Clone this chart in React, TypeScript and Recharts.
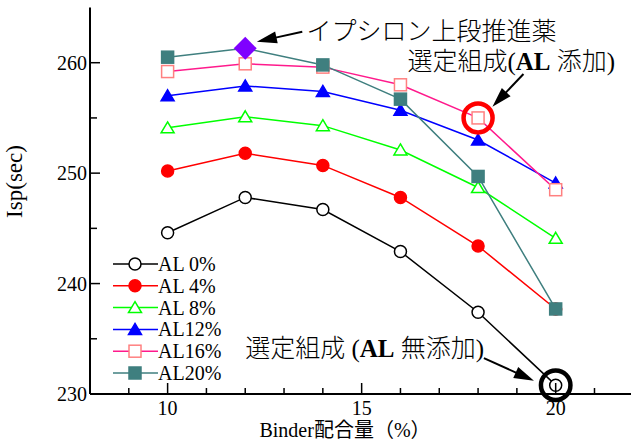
// Isp vs binder content for Epsilon upper-stage propellant, drawn with Recharts

import { LineChart, Line, XAxis, YAxis, Legend, ReferenceDot, ReferenceLine } from 'recharts';

const binder = [10, 12, 14, 16, 18, 20];

const al0 = [244.6, 247.8, 246.7, 242.9, 237.4, 230.8];
const al4 = [250.2, 251.8, 250.7, 247.8, 243.4, 237.7];
const al8 = [254.1, 255.1, 254.3, 252.1, 248.7, 244.1];
const al12 = [257.0, 257.9, 257.4, 255.7, 253.0, 249.1];
const al16 = [259.2, 259.9, 259.6, 258.0, 255.0, 248.5];
const al20 = [260.5, 261.3, 259.8, 256.7, 249.7, 237.7];

const seriesNames = ['AL 0%', 'AL 4%', 'AL 8%', 'AL12%', 'AL16%', 'AL20%'];

const xTicks = [9, 10, 11, 12, 13, 14, 15, 16, 17, 18, 19, 20, 21];
const yTicks = [230, 235, 240, 245, 250, 255, 260];

// annotation anchors (data coordinates)
const epsilonMark = { x: 12, y: 261.3 };
const selectedAl = { x: 18, y: 255.0 };
const selectedNoAl = { x: 20, y: 230.8 };

const SERIF = '"Liberation Serif", "Times New Roman", serif';
const JP = '"Liberation Serif", "Noto Sans CJK JP", serif';

type Shape = 'circle' | 'triangle' | 'square';

const SERIES: { key: string; color: string; shape: Shape; fill: string; markStroke: string }[] = [
  { key: 'al0', color: '#000000', shape: 'circle', fill: '#ffffff', markStroke: '#000000' },
  { key: 'al4', color: '#ff0000', shape: 'circle', fill: '#ff0000', markStroke: '#ff0000' },
  { key: 'al8', color: '#00ff00', shape: 'triangle', fill: '#ffffff', markStroke: '#00ff00' },
  { key: 'al12', color: '#0000ff', shape: 'triangle', fill: '#0000ff', markStroke: '#0000ff' },
  { key: 'al16', color: '#ff1a8c', shape: 'square', fill: '#ffffff', markStroke: '#ff8080' },
  { key: 'al20', color: '#3f7f7f', shape: 'square', fill: '#3f7f7f', markStroke: '#3f7f7f' },
];

const data = binder.map((b, i) => ({
  binder: b,
  al0: al0[i],
  al4: al4[i],
  al8: al8[i],
  al12: al12[i],
  al16: al16[i],
  al20: al20[i],
}));

function Marker({ shape, cx, cy, fill, stroke }: { shape: Shape; cx: number; cy: number; fill: string; stroke: string }) {
  if (shape === 'circle') {
    return <circle cx={cx} cy={cy} r={6} fill={fill} stroke={stroke} strokeWidth={1.5} />;
  }
  if (shape === 'square') {
    return <rect x={cx - 6} y={cy - 6} width={12} height={12} fill={fill} stroke={stroke} strokeWidth={1.5} />;
  }
  return (
    <polygon
      points={`${cx},${cy - 6} ${cx + 6.5},${cy + 5} ${cx - 6.5},${cy + 5}`}
      fill={fill}
      stroke={stroke}
      strokeWidth={1.5}
    />
  );
}

const BottomTick = (p: any) => {
  const major = p.payload.value % 5 === 0;
  return (
    <g>
      <line x1={p.x} y1={p.y} x2={p.x} y2={p.y - (major ? 11 : 6)} stroke="#000" strokeWidth={1.5} />
      {major && (
        <text x={p.x} y={p.y + 21} textAnchor="middle" style={{ fontFamily: SERIF, fontSize: 20 }} fill="#000">
          {p.payload.value}
        </text>
      )}
    </g>
  );
};

const TopTick = (p: any) => {
  const major = p.payload.value % 5 === 0;
  return <line x1={p.x} y1={p.y} x2={p.x} y2={p.y + (major ? 11 : 6)} stroke="#000" strokeWidth={1.5} />;
};

const LeftTick = (p: any) => {
  const major = p.payload.value % 10 === 0;
  return (
    <g>
      <line x1={p.x} y1={p.y} x2={p.x + (major ? 10 : 7)} y2={p.y} stroke="#000" strokeWidth={1.5} />
      {major && (
        <text x={p.x - 3} y={p.y + 7} textAnchor="end" style={{ fontFamily: SERIF, fontSize: 20 }} fill="#000">
          {p.payload.value}
        </text>
      )}
    </g>
  );
};

const RightTick = (p: any) => {
  const major = p.payload.value % 10 === 0;
  return <line x1={p.x} y1={p.y} x2={p.x - (major ? 10 : 7)} y2={p.y} stroke="#000" strokeWidth={1.5} />;
};

const Arrow = (p: any) => {
  const { x1, y1, x2, y2 } = p;
  const dx = x2 - x1;
  const dy = y2 - y1;
  const len = Math.hypot(dx, dy) || 1;
  const ux = dx / len;
  const uy = dy / len;
  const hl = 20;
  const hw = 6;
  const bx = x2 - ux * hl;
  const by = y2 - uy * hl;
  return (
    <g>
      <line x1={x1} y1={y1} x2={bx + ux * 2} y2={by + uy * 2} stroke="#000" strokeWidth={2} />
      <polygon points={`${x2},${y2} ${bx - uy * hw},${by + ux * hw} ${bx + uy * hw},${by - ux * hw}`} fill="#000" />
    </g>
  );
};

function LegendBox() {
  return (
    <svg width={120} height={135}>
      {SERIES.map((s, i) => {
        const cy = 11 + i * 21.8;
        return (
          <g key={s.key}>
            <line x1={3} y1={cy} x2={48} y2={cy} stroke={s.color} strokeWidth={1.5} />
            <Marker shape={s.shape} cx={25} cy={cy} fill={s.fill} stroke={s.markStroke} />
            <text x={48} y={cy + 7} style={{ fontFamily: SERIF, fontSize: 20 }} fill="#000">
              {seriesNames[i]}
            </text>
          </g>
        );
      })}
    </svg>
  );
}

const jpStyle = (size: number) => ({ fontFamily: JP, fontSize: size, fontWeight: 300 });

export default function App() {
  return (
    <div style={{ position: 'absolute', left: 0, top: 0, background: '#fff' }}>
      <LineChart width={631} height={443} data={data} margin={{ top: 7.5, right: -2.3, left: 0, bottom: 0 }}>
        <XAxis
          dataKey="binder"
          type="number"
          domain={[8, 22]}
          ticks={xTicks}
          interval={0}
          height={49}
          tickSize={0}
          tickMargin={0}
          tickLine={false}
          axisLine={{ stroke: '#000', strokeWidth: 2 }}
          tick={BottomTick}
          allowDataOverflow
          label={(lp: any) => {
            const vb = lp.viewBox || { x: 90, y: 394 };
            return (
              <text x={vb.x + 255} y={vb.y + 43} textAnchor="middle" style={{ fontFamily: JP, fontSize: 20 }} fill="#000">
                Binder配合量（%）
              </text>
            );
          }}
        />
        <XAxis
          xAxisId="top"
          orientation="top"
          type="number"
          domain={[8, 22]}
          ticks={xTicks}
          interval={0}
          height={0}
          tickSize={0}
          tickMargin={0}
          tickLine={false}
          axisLine={{ stroke: '#000', strokeWidth: 2 }}
          tick={TopTick}
          allowDataOverflow
        />
        <YAxis
          type="number"
          domain={[230, 265]}
          ticks={yTicks}
          interval={0}
          width={90}
          tickSize={0}
          tickMargin={0}
          tickLine={false}
          axisLine={{ stroke: '#000', strokeWidth: 2 }}
          tick={LeftTick}
          allowDataOverflow
          label={(lp: any) => {
            const vb = lp.viewBox || { x: 0, y: 7.5 };
            const lx = vb.x + 22;
            const ly = vb.y + 174;
            return (
              <text
                x={lx}
                y={ly}
                textAnchor="middle"
                transform={`rotate(-90 ${lx} ${ly})`}
                style={{ fontFamily: SERIF, fontSize: 23 }}
                fill="#000"
              >
                Isp(sec)
              </text>
            );
          }}
        />
        <YAxis
          yAxisId="right"
          orientation="right"
          type="number"
          domain={[230, 265]}
          ticks={yTicks}
          interval={0}
          width={0}
          tickSize={0}
          tickMargin={0}
          tickLine={false}
          axisLine={{ stroke: '#000', strokeWidth: 2 }}
          tick={RightTick}
          allowDataOverflow
        />
        <Legend
          layout="vertical"
          align="center"
          verticalAlign="middle"
          wrapperStyle={{ position: 'absolute', left: 110, top: 253, width: 120, height: 135 }}
          content={() => <LegendBox />}
        />
        {SERIES.map((s, i) => (
          <Line
            key={s.key}
            dataKey={s.key}
            name={seriesNames[i]}
            stroke={s.color}
            strokeWidth={1.5}
            isAnimationActive={false}
            dot={(p: any) =>
              // the AL20% point at the Epsilon mark is covered by the diamond
              s.key === 'al20' && p.payload.binder === epsilonMark.x ? (
                <g key={`${s.key}-${p.index}`} />
              ) : (
                <Marker key={`${s.key}-${p.index}`} shape={s.shape} cx={p.cx} cy={p.cy} fill={s.fill} stroke={s.markStroke} />
              )
            }
            activeDot={false}
          />
        ))}
        <ReferenceDot
          x={epsilonMark.x}
          y={epsilonMark.y}
          zIndex={1500}
          shape={(p: any) => (
            <polygon
              points={`${p.cx},${p.cy - 11.5} ${p.cx + 11.5},${p.cy} ${p.cx},${p.cy + 11.5} ${p.cx - 11.5},${p.cy}`}
              fill="#7f00ff"
            />
          )}
        />
        <ReferenceDot
          x={selectedAl.x}
          y={selectedAl.y}
          zIndex={1500}
          shape={(p: any) => <circle cx={p.cx} cy={p.cy} r={14.5} fill="none" stroke="#ff0000" strokeWidth={4.5} />}
        />
        <ReferenceDot
          x={selectedNoAl.x}
          y={selectedNoAl.y}
          zIndex={1500}
          shape={(p: any) => <circle cx={p.cx} cy={p.cy} r={14.75} fill="none" stroke="#000" strokeWidth={4.5} />}
        />
        <ReferenceLine segment={[{ x: 13.47, y: 262.8 }, { x: 12.3, y: 261.9 }]} shape={Arrow} />
        <ReferenceLine segment={[{ x: 19.17, y: 258.98 }, { x: 18.37, y: 256.02 }]} shape={Arrow} />
        <ReferenceLine segment={[{ x: 18.15, y: 233.25 }, { x: 19.44, y: 231.2 }]} shape={Arrow} />
        <ReferenceDot
          x={13.58}
          y={262.1}
          shape={(p: any) => (
            <text x={p.cx} y={p.cy} style={jpStyle(25)} fill="#000">
              イプシロン上段推進薬
            </text>
          )}
        />
        <ReferenceDot
          x={16.18}
          y={259.38}
          shape={(p: any) => (
            <text x={p.cx} y={p.cy} style={jpStyle(25)} fill="#000">
              選定組成(<tspan fontWeight="bold">AL</tspan> 添加)
            </text>
          )}
        />
        <ReferenceDot
          x={12.0}
          y={233.32}
          shape={(p: any) => (
            <text x={p.cx} y={p.cy} style={jpStyle(25)} fill="#000">
              選定組成 (<tspan fontWeight="bold">AL</tspan> 無添加)
            </text>
          )}
        />
      </LineChart>
    </div>
  );
}
